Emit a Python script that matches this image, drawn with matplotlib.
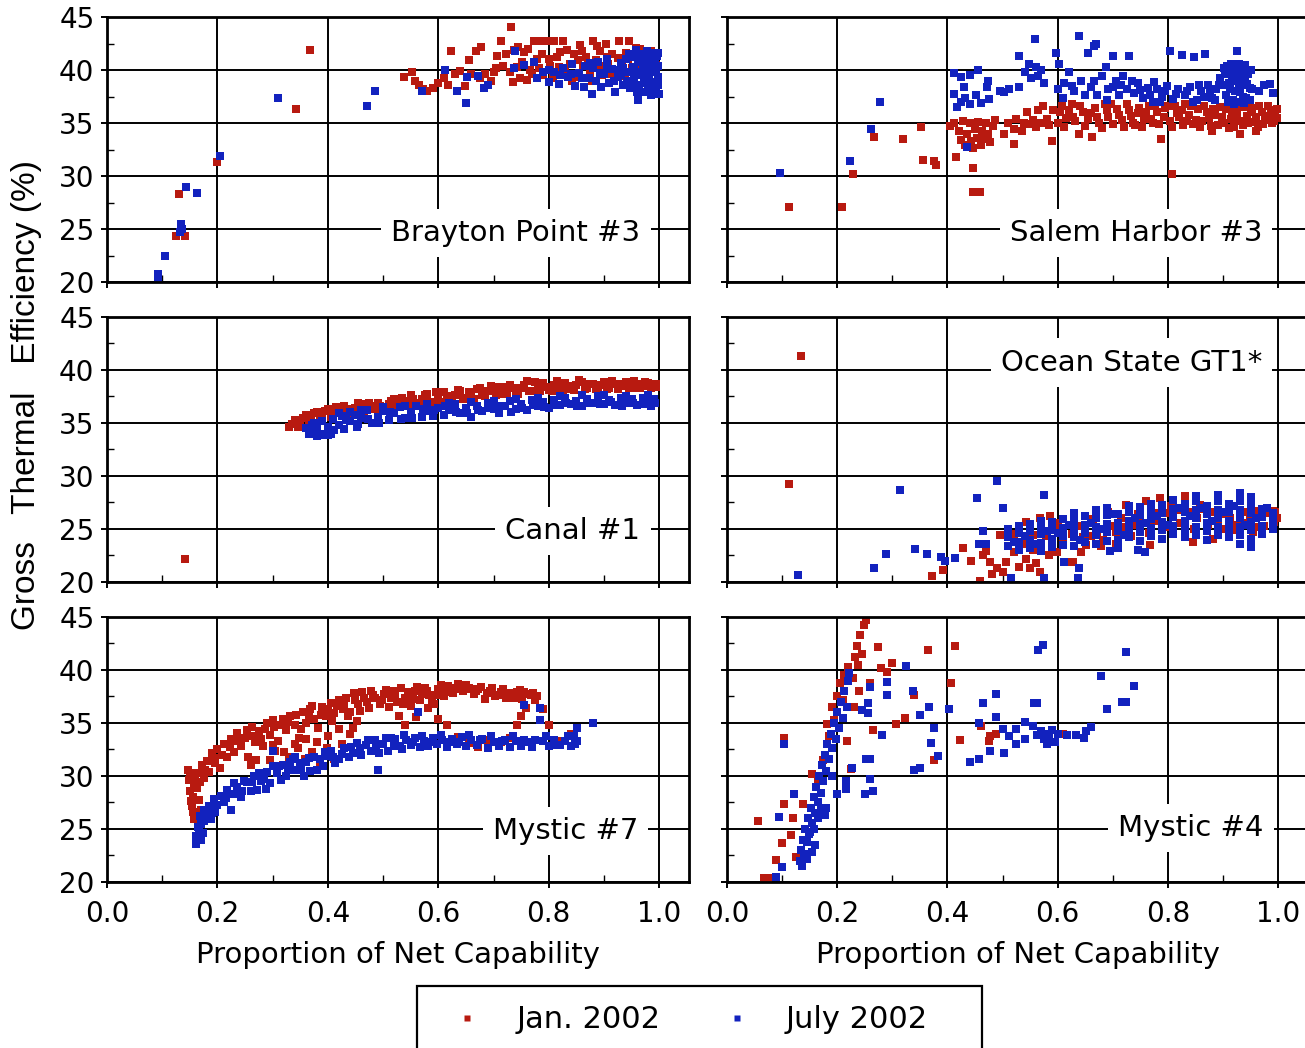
import numpy as np
import matplotlib.pyplot as plt
from matplotlib.lines import Line2D
from matplotlib.patches import Rectangle

RED = '#B81A10'
BLUE = '#1222BE'

# (proportion of net capability, gross thermal efficiency %)
brayton_jan = [(0.125,24.3),(0.141,24.3),(0.131,28.3),(0.200,31.3),(0.343,36.3),(0.368,41.9),
    (0.538,39.3),(0.552,39.8),(0.558,39.0),(0.565,38.6),(0.572,38.2),(0.580,38.0),(0.590,38.3),(0.600,38.8),
    (0.610,39.2),(0.618,38.6),(0.623,41.8),(0.630,39.6),(0.640,39.9),(0.648,38.5),(0.655,40.9),(0.660,39.6),
    (0.668,41.8),(0.678,42.2),(0.675,39.2),(0.685,39.6),(0.695,39.0),(0.700,39.8),(0.707,41.3),(0.713,42.7),
    (0.718,40.4),(0.731,44.1),(0.737,41.9),(0.730,39.8),(0.742,40.3),(0.748,39.2),(0.755,41.7),(0.760,39.1),
    (0.766,40.0),(0.773,42.7),(0.778,41.0),(0.785,42.7),(0.790,39.5),(0.797,42.7),(0.803,40.4),(0.810,42.7),
    (0.815,41.2),(0.820,41.7),(0.826,42.7),(0.830,39.8),(0.838,40.6),(0.845,41.5),(0.850,39.3),(0.857,42.4),
    (0.862,40.4),(0.868,41.2),(0.874,39.6),(0.880,42.7),(0.885,40.9),(0.892,41.8),(0.897,39.5),(0.903,42.5),
    (0.908,40.6),(0.915,41.5),(0.920,39.8),(0.928,42.7),(0.933,40.8),(0.940,41.6),(0.946,42.7),(0.950,40.2),
    (0.958,42.1),(0.962,41.0),(0.968,40.4),(0.975,41.5),(0.982,40.8),(0.988,41.2),(0.994,40.5),
    (0.705,40.2),(0.722,41.5),(0.735,38.9),(0.745,42.2),(0.752,40.8),(0.762,42.0),(0.770,39.6),(0.782,40.2),
    (0.788,41.5),(0.800,41.0),(0.807,39.2),(0.818,40.3),(0.833,41.9),(0.842,39.0),(0.853,40.9),(0.860,41.8),
    (0.871,40.6),(0.878,39.0),(0.888,42.3),(0.895,40.4),(0.905,41.2),(0.912,39.6),(0.925,41.1),(0.938,39.4),
    (0.944,41.0),(0.955,39.6),(0.965,42.0),(0.972,40.0),(0.985,41.8),(0.990,39.8)]
brayton_jul = [(0.093,20.8),(0.093,20.3),(0.105,22.5),(0.132,24.7),(0.134,25.5),(0.136,25.0),(0.143,29.0),
    (0.163,28.4),(0.205,31.9),(0.310,37.4),(0.470,36.6),(0.485,38.0),(0.570,38.0),(0.612,40.0),(0.634,38.0),
    (0.650,36.9),(0.652,39.3),(0.672,39.4),(0.683,38.3),(0.690,38.6),(0.737,40.2),(0.738,41.8),(0.755,40.5),
    (0.773,40.8),(0.779,39.2),(0.790,39.8),(0.800,38.9),(0.810,39.8),(0.818,38.7),(0.826,40.2),(0.835,39.3),
    (0.842,40.6),(0.848,38.5),(0.855,39.7),(0.863,38.4),(0.866,40.4),(0.872,39.2),(0.878,37.7),(0.880,40.2),
    (0.886,39.0),(0.890,40.8),(0.895,38.4),(0.900,39.6),(0.905,41.0),(0.910,38.8),(0.915,40.1),(0.920,37.9),
    (0.925,39.3),(0.930,40.7),(0.935,38.6),(0.940,39.8),(0.946,41.5),(0.948,38.3),(0.952,40.3),(0.955,39.2),
    (0.958,41.9),(0.960,37.9),(0.964,40.8),(0.964,38.3),(0.968,39.5),(0.970,41.3),(0.972,38.8),(0.975,40.2),
    (0.978,41.8),(0.980,38.0),(0.982,39.4),(0.985,40.7),(0.987,41.6),(0.988,38.6),(0.990,39.8),(0.992,40.9),
    (0.994,38.2),(0.996,41.3),(0.997,39.3),(0.998,40.4),
    (0.930,39.5),(0.935,40.2),(0.940,41.0),(0.945,39.0),(0.950,41.2),(0.955,40.0),(0.958,38.6),(0.962,39.8),
    (0.966,41.5),(0.970,40.0),(0.973,39.1),(0.976,41.0),(0.979,39.8),(0.983,38.7),(0.986,40.2),(0.989,41.2),
    (0.992,38.9),(0.995,39.8),(0.998,41.6),(0.998,38.6),(0.990,40.5),(0.981,40.6),(0.971,40.6),(0.961,41.0),
    (0.951,38.7),(0.942,38.8),(0.999,37.7),(0.985,37.6),(0.962,37.2),(0.975,37.9),(0.860,39.2),(0.875,40.7),
    (0.892,39.7),(0.905,40.4),(0.918,39.0),(0.928,40.0),(0.840,39.6),(0.820,39.5),(0.800,40.0)]

salem_jan = [(0.112,27.1),(0.208,27.1),(0.229,30.2),(0.266,33.7),(0.319,33.5),(0.352,34.6),(0.356,31.5),
    (0.376,31.4),(0.380,31.0),(0.404,34.7),(0.415,31.8),(0.446,30.8),(0.446,28.5),(0.459,28.5),
    (0.412,35.0),(0.420,34.2),(0.425,33.4),(0.428,35.2),(0.432,32.9),(0.436,34.0),(0.440,35.0),(0.443,33.3),
    (0.447,32.6),(0.450,34.4),(0.453,33.6),(0.456,35.1),(0.460,32.9),(0.463,34.2),(0.467,33.5),(0.470,35.0),
    (0.474,34.0),(0.478,33.2),(0.482,34.7),(0.486,35.3),(0.503,34.0),(0.520,33.0),(0.510,35.0),(0.525,35.4),
    (0.538,35.0),(0.545,36.0),(0.555,35.3),(0.565,36.2),(0.573,36.6),(0.580,35.4),(0.590,33.3),(0.592,36.2),
    (0.600,35.0),(0.608,36.6),(0.615,35.5),(0.625,36.8),(0.632,35.2),(0.638,34.0),(0.645,36.0),(0.655,35.4),
    (0.663,33.7),(0.668,36.4),(0.675,35.0),(0.685,36.8),(0.692,35.6),(0.700,34.9),(0.708,36.3),(0.716,35.3),
    (0.725,36.8),(0.733,35.7),(0.740,34.8),(0.748,36.4),(0.756,35.4),(0.765,36.6),(0.772,35.0),(0.780,36.0),
    (0.787,33.5),(0.795,36.4),(0.803,35.2),(0.808,30.2),(0.812,36.6),(0.820,35.6),(0.828,34.8),(0.830,36.8),
    (0.838,35.8),(0.846,34.9),(0.855,36.3),(0.862,35.2),(0.870,36.0),(0.878,34.7),(0.886,35.8),(0.894,36.5),
    (0.902,35.0),(0.910,34.5),(0.916,36.0),(0.922,35.3),(0.930,36.6),(0.936,34.8),(0.943,35.7),(0.950,36.4),
    (0.957,35.1),(0.963,34.6),(0.970,36.0),(0.976,35.3),(0.982,36.6),(0.988,35.0),(0.994,35.8),(0.998,36.3),
    (0.604,36.0),(0.612,34.6),(0.620,36.2),(0.628,35.6),(0.640,36.6),(0.650,34.7),(0.660,35.9),(0.672,35.6),
    (0.680,34.5),(0.690,36.2),(0.697,36.8),(0.712,35.8),(0.720,34.6),(0.730,36.2),(0.737,35.0),(0.745,35.9),
    (0.752,34.6),(0.760,36.0),(0.769,35.4),(0.776,36.6),(0.784,34.9),(0.792,35.6),(0.800,36.6),(0.808,34.6),
    (0.816,35.9),(0.825,36.2),(0.834,35.2),(0.842,36.6),(0.850,35.3),(0.858,34.6),(0.866,36.6),(0.874,35.5),
    (0.882,36.3),(0.890,34.8),(0.898,35.6),(0.906,36.3),(0.914,35.4),(0.920,34.6),(0.926,35.9),(0.933,35.2),
    (0.940,36.5),(0.946,35.0),(0.953,36.0),(0.960,35.6),(0.966,36.6),(0.973,34.9),(0.980,35.7),(0.986,36.2),
    (0.992,35.2),(0.998,35.5),(0.520,34.4),(0.535,34.2),(0.548,34.9),(0.560,34.6),(0.570,35.0),(0.585,34.8),
    (0.880,34.2),(0.930,34.0),(0.960,34.2)]
salem_jul = [(0.096,30.3),(0.224,31.4),(0.261,34.4),(0.277,37.0),(0.436,32.7),
    (0.412,39.7),(0.425,39.3),(0.440,39.5),(0.455,40.0),(0.473,39.0),(0.412,37.7),(0.418,36.5),(0.424,37.0),
    (0.432,37.4),(0.440,36.8),(0.452,37.6),(0.460,36.9),(0.476,37.3),(0.472,38.4),(0.430,38.4),
    (0.495,38.0),(0.503,37.9),(0.512,38.2),(0.530,38.4),(0.530,41.3),(0.540,39.8),(0.548,40.6),(0.552,39.2),
    (0.558,42.9),(0.560,40.3),(0.564,39.4),(0.570,40.0),(0.575,38.8),(0.597,41.6),(0.603,40.6),(0.600,38.2),
    (0.612,38.8),(0.620,39.8),(0.630,38.0),(0.639,43.2),(0.642,39.0),(0.655,41.6),(0.665,42.3),(0.670,42.5),
    (0.660,38.4),(0.672,37.6),(0.680,39.4),(0.688,40.3),(0.692,38.2),(0.700,41.3),(0.705,39.0),(0.712,37.6),
    (0.718,39.4),(0.725,38.2),(0.730,41.3),(0.738,37.8),(0.745,38.8),(0.755,37.4),(0.763,38.3),(0.772,37.0),
    (0.780,38.2),(0.790,37.5),(0.798,38.5),(0.804,41.8),(0.810,37.3),(0.818,38.2),(0.825,41.4),(0.830,37.6),
    (0.840,38.4),(0.847,41.2),(0.852,37.2),(0.860,38.0),(0.867,41.5),(0.872,38.6),(0.880,37.4),(0.888,38.2),
    (0.895,39.2),(0.902,40.2),(0.905,37.6),(0.910,38.8),(0.915,40.6),(0.918,37.2),(0.922,39.5),(0.925,41.8),
    (0.928,38.2),(0.932,40.3),(0.936,37.5),(0.940,39.0),(0.944,40.0),(0.948,38.3),(0.935,38.9),(0.912,39.8),
    (0.966,38.0),(0.985,38.7),(0.990,37.8),
    (0.900,38.6),(0.903,39.6),(0.907,40.4),(0.908,37.0),(0.913,38.2),(0.916,39.3),(0.919,40.0),(0.921,38.0),
    (0.924,37.0),(0.926,39.0),(0.929,40.6),(0.931,37.9),(0.934,39.5),(0.937,38.6),(0.939,40.5),(0.941,37.4),
    (0.943,38.7),(0.946,39.6),(0.949,37.2),(0.951,40.0),(0.953,38.2),(0.938,36.9),(0.920,36.8),
    (0.610,37.4),(0.625,38.5),(0.650,37.6),(0.665,39.0),(0.690,37.2),(0.700,38.4),(0.715,38.6),(0.735,39.0),
    (0.750,38.1),(0.768,37.6),(0.775,38.9),(0.785,37.0),(0.795,38.0),(0.815,37.7),(0.835,38.0),(0.845,37.0),
    (0.856,38.6),(0.865,37.5),(0.876,38.0),(0.885,37.2),(0.893,38.6),(0.975,38.6)]

canal_jan = [(0.141,22.2),
    (0.33,34.6),(0.34,35.3),(0.35,35.0),(0.36,35.8),(0.37,35.4),(0.38,36.0),(0.39,35.6),(0.40,36.3),(0.41,35.8),
    (0.42,36.2),(0.43,36.6),(0.44,36.0),(0.45,36.4),(0.46,36.8),(0.47,36.2),(0.48,36.6),(0.49,36.9),(0.50,36.4),
    (0.51,36.8),(0.52,37.3),(0.53,36.7),(0.54,37.1),(0.55,37.6),(0.56,36.9),(0.57,37.3),(0.58,37.7),(0.59,37.0),
    (0.60,37.4),(0.61,37.9),(0.62,37.2),(0.63,37.6),(0.64,38.0),(0.65,37.4),(0.66,37.8),(0.67,38.2),(0.68,37.6),
    (0.69,38.0),(0.70,38.4),(0.71,37.7),(0.72,38.1),(0.73,38.6),(0.74,37.9),(0.75,38.3),(0.76,39.0),(0.77,38.0),
    (0.78,38.5),(0.79,38.8),(0.80,38.1),(0.81,38.6),(0.82,38.3),(0.83,38.8),(0.84,38.2),(0.85,38.6),(0.86,38.9),
    (0.87,38.3),(0.88,38.7),(0.89,38.4),(0.90,38.9),(0.91,38.3),(0.92,38.7),(0.93,38.5),(0.94,38.9),(0.95,38.3),
    (0.96,38.7),(0.97,38.5),(0.98,38.8),(0.99,38.4),(0.995,38.7),
    (0.335,34.9),(0.355,35.5),(0.375,35.9),(0.395,36.1),(0.415,36.5),(0.435,36.3),(0.455,36.9),(0.475,36.9),
    (0.495,36.6),(0.515,37.1),(0.535,37.4),(0.555,37.3),(0.575,37.6),(0.595,37.9),(0.615,37.5),(0.635,38.1),
    (0.655,37.9),(0.675,38.3),(0.695,38.5),(0.715,38.4),(0.735,38.3),(0.755,38.6),(0.775,38.9),(0.795,38.4),
    (0.815,39.0),(0.835,38.5),(0.855,39.1),(0.875,38.7),(0.895,38.6),(0.915,39.0),(0.935,38.7),(0.955,39.0),
    (0.975,38.9),(0.995,38.4),
    (0.345,34.6),(0.365,35.1),(0.385,35.3),(0.405,35.6),(0.425,35.9),(0.445,35.8),(0.465,36.1),(0.485,36.3),
    (0.505,36.1),(0.525,36.5),(0.545,36.7),(0.565,36.6),(0.585,36.9),(0.605,37.0),(0.625,37.0),(0.645,37.3),
    (0.665,37.3),(0.685,37.5),(0.705,37.6),(0.725,37.7),(0.745,37.7),(0.765,38.0),(0.785,38.0),(0.805,38.0),
    (0.825,38.0),(0.845,38.1),(0.865,38.2),(0.885,38.2),(0.905,38.2),(0.925,38.2),(0.945,38.3),(0.965,38.3),
    (0.985,38.3)]
canal_jul = [(0.37,34.2),(0.375,35.0),(0.38,34.5),(0.385,33.9),(0.39,35.2),(0.40,34.6),(0.405,34.0),(0.41,35.4),
    (0.42,34.8),(0.425,35.7),(0.43,34.4),(0.44,35.2),(0.45,35.8),(0.455,34.9),(0.46,35.5),(0.47,36.2),(0.48,35.0),
    (0.49,35.6),(0.50,36.1),(0.51,35.3),(0.52,35.9),(0.53,36.5),(0.54,35.5),(0.55,36.0),(0.56,36.6),(0.57,35.6),
    (0.58,36.1),(0.59,35.7),(0.60,36.4),(0.61,35.8),(0.62,36.2),(0.63,36.8),(0.64,35.9),(0.65,36.4),(0.66,35.6),
    (0.67,36.6),(0.68,36.1),(0.69,36.9),(0.70,36.3),(0.71,35.9),(0.72,36.6),(0.73,37.1),(0.74,36.3),(0.75,36.8),
    (0.76,36.2),(0.77,37.2),(0.78,36.6),(0.79,37.0),(0.80,36.4),(0.81,37.2),(0.82,36.7),(0.83,37.4),(0.84,36.8),
    (0.85,37.1),(0.86,36.6),(0.87,37.3),(0.88,36.9),(0.89,37.5),(0.90,36.8),(0.91,37.2),(0.92,36.7),(0.93,37.4),
    (0.94,36.9),(0.95,37.3),(0.96,36.7),(0.97,37.4),(0.98,37.0),(0.99,37.3),(0.985,36.6),
    (0.372,34.8),(0.392,34.0),(0.412,34.3),(0.432,35.3),(0.452,34.6),(0.472,35.4),(0.492,35.0),(0.512,36.0),
    (0.532,35.4),(0.552,35.5),(0.572,36.3),(0.592,36.2),(0.612,36.6),(0.632,36.0),(0.652,35.9),(0.672,36.2),
    (0.692,36.4),(0.712,36.6),(0.732,36.0),(0.752,36.4),(0.772,36.7),(0.792,36.5),(0.812,36.7),(0.832,36.9),
    (0.852,36.6),(0.872,36.9),(0.892,36.8),(0.912,37.0),(0.932,36.6),(0.952,36.9),(0.972,36.8),(0.992,36.9),
    (0.38,33.8),(0.40,33.9),(0.36,34.5),(0.365,34.0),
    (0.42,35.9),(0.44,36.0),(0.46,36.2),(0.50,36.5),(0.54,36.6),(0.58,36.8),(0.62,36.9),(0.66,37.0),(0.70,37.1),
    (0.74,37.3),(0.78,37.4),(0.82,37.5),(0.86,37.6),(0.90,37.6),(0.94,37.5),(0.98,37.6)]

ocean_jan = [(0.134,41.3),(0.112,29.2),(0.371,20.6),(0.392,21.1),(0.428,23.2),(0.443,22.0),(0.459,20.1),
    (0.465,22.5),(0.477,21.9),(0.489,21.3),(0.495,24.4),(0.507,21.9),(0.520,22.8),(0.530,21.4),(0.543,25.7),
    (0.543,22.2),(0.556,23.0),(0.567,20.9),(0.567,26.0),(0.578,24.3),(0.586,26.2),(0.598,22.8),(0.605,24.8),
    (0.615,21.9),(0.628,21.9),(0.635,25.3),(0.645,24.2),(0.652,23.5),(0.664,25.9),(0.672,24.6),(0.682,24.0),
    (0.692,26.6),(0.700,25.3),(0.706,24.7),(0.715,26.0),(0.724,27.3),(0.736,25.4),(0.745,26.4),(0.760,27.6),
    (0.767,23.5),(0.775,25.8),(0.785,27.9),(0.795,26.5),(0.809,25.1),(0.818,26.8),(0.830,28.1),(0.845,23.8),
    (0.852,26.0),(0.865,26.9),(0.882,24.1),(0.890,25.7),(0.905,26.4),(0.918,24.9),(0.930,26.8),(0.942,25.6),
    (0.954,24.7),(0.962,26.2),(0.966,26.7),(0.975,25.3),(0.985,26.5),(0.990,26.7),(0.993,25.7),(0.998,26.0),
    (0.610,23.6),(0.625,24.5),(0.642,22.8),(0.660,24.3),(0.678,23.4),(0.690,25.0),(0.705,23.6),(0.720,25.2),
    (0.733,24.3),(0.750,25.6),(0.765,24.6),(0.780,26.5),(0.795,25.2),(0.805,27.2),(0.822,25.6),(0.838,26.6),
    (0.848,25.0),(0.858,27.3),(0.872,25.4),(0.885,26.6),(0.898,25.0),(0.912,26.0),(0.925,25.4),(0.938,26.6),
    (0.948,25.9),(0.958,25.2),(0.970,26.4),(0.980,26.9),(0.995,26.6),(0.520,24.5),(0.535,23.6),(0.555,24.4),
    (0.585,22.5),(0.600,25.6),(0.470,22.9),(0.480,20.8),(0.500,20.9),(0.550,21.3),(0.560,21.8)]
ocean_jul = [(0.128,20.7),(0.267,21.3),(0.288,22.6),(0.314,28.7),(0.341,23.1),(0.363,22.6),(0.388,22.4),
    (0.395,22.0),(0.413,22.3),(0.453,27.9),(0.464,24.8),(0.458,23.6),(0.470,23.6),(0.489,29.5),(0.500,27.0),
    (0.575,28.2),(0.515,20.4),(0.575,20.4),(0.637,20.4),(0.612,21.9),(0.638,21.3),(0.694,22.9),(0.745,23.0),
    (0.758,22.8),
    (0.51,23.4),(0.51,24.2),(0.51,25.0),(0.53,23.0),(0.53,23.8),(0.53,24.6),(0.53,25.3),
    (0.55,23.2),(0.55,24.0),(0.55,24.8),(0.55,25.5),(0.57,22.9),(0.57,23.7),(0.57,24.5),(0.57,25.3),(0.57,25.8),
    (0.59,23.3),(0.59,24.1),(0.59,24.9),(0.59,25.7),(0.61,23.5),(0.61,24.3),(0.61,25.1),(0.61,25.9),
    (0.63,23.4),(0.63,24.2),(0.63,25.0),(0.63,25.8),(0.63,26.5),(0.65,23.8),(0.65,24.6),(0.65,25.4),(0.65,26.2),
    (0.67,23.6),(0.67,24.4),(0.67,25.2),(0.67,26.0),(0.67,26.8),(0.69,23.9),(0.69,24.7),(0.69,25.5),(0.69,26.3),
    (0.69,27.0),(0.71,23.2),(0.71,24.0),(0.71,24.8),(0.71,25.6),(0.71,26.4),(0.73,24.2),(0.73,25.0),(0.73,25.8),
    (0.73,26.6),(0.73,27.2),(0.75,23.9),(0.75,24.7),(0.75,25.5),(0.75,26.3),(0.75,27.1),(0.77,24.3),(0.77,25.1),
    (0.77,25.9),(0.77,26.7),(0.77,27.4),(0.79,24.1),(0.79,24.9),(0.79,25.7),(0.79,26.5),(0.79,27.3),(0.81,24.5),
    (0.81,25.3),(0.81,26.1),(0.81,26.9),(0.81,27.7),(0.83,24.2),(0.83,25.0),(0.83,25.8),(0.83,26.6),(0.83,27.4),
    (0.85,24.4),(0.85,25.2),(0.85,26.0),(0.85,26.8),(0.85,27.6),(0.85,28.1),(0.87,24.0),(0.87,24.8),(0.87,25.6),
    (0.87,26.4),(0.87,27.2),(0.89,24.4),(0.89,25.2),(0.89,26.0),(0.89,26.8),(0.89,27.6),(0.89,28.2),(0.91,24.2),
    (0.91,25.0),(0.91,25.8),(0.91,26.6),(0.91,27.4),(0.93,23.6),(0.93,24.4),(0.93,25.2),(0.93,26.0),(0.93,26.8),
    (0.93,27.6),(0.93,28.4),(0.95,23.3),(0.95,24.1),(0.95,24.9),(0.95,25.7),(0.95,26.5),(0.95,27.3),(0.95,28.0),
    (0.97,24.5),(0.97,25.3),(0.97,26.1),(0.97,26.9),(0.99,25.0),(0.99,25.8),(0.99,26.5),
    (0.52,23.8),(0.54,24.3),(0.56,23.6),(0.58,24.8),(0.60,24.6),(0.62,25.4),(0.64,24.0),(0.66,25.6),(0.68,25.0),
    (0.70,26.4),(0.72,24.4),(0.74,26.0),(0.76,25.6),(0.78,26.2),(0.80,25.4),(0.82,27.0),(0.84,26.2),(0.86,27.0),
    (0.88,25.8),(0.90,26.6),(0.92,27.2),(0.94,25.4),(0.96,26.0),(0.98,27.0)]

mystic7_jan = [(0.146,30.6),(0.148,29.6),(0.150,28.6),(0.152,27.6),(0.155,26.6),(0.158,25.9),(0.160,30.0),
    (0.163,28.9),(0.166,27.7),(0.170,26.8),(0.172,31.0),(0.176,29.8),(0.182,31.4),(0.185,30.4),
    (0.190,32.2),(0.195,31.2),(0.200,32.5),(0.205,30.8),(0.212,33.0),(0.218,31.8),(0.225,33.5),(0.230,32.3),
    (0.236,34.1),(0.242,32.8),(0.250,33.6),(0.256,31.8),(0.262,34.6),(0.268,33.2),(0.275,34.2),(0.282,32.8),
    (0.290,35.0),(0.296,33.9),(0.303,34.6),(0.310,33.3),(0.318,35.4),(0.325,34.3),(0.332,35.7),(0.340,34.8),
    (0.347,33.6),(0.355,36.0),(0.361,35.0),(0.368,36.3),(0.375,35.4),(0.382,34.5),(0.390,36.5),(0.397,35.7),
    (0.405,36.9),(0.412,35.9),(0.420,37.2),(0.427,36.3),(0.433,37.4),(0.440,36.0),(0.447,37.8),(0.455,36.8),
    (0.462,37.9),(0.470,37.0),(0.478,38.0),(0.486,37.4),(0.494,36.8),(0.502,37.7),(0.510,36.5),(0.518,38.0),
    (0.526,37.0),(0.532,38.3),(0.540,37.4),(0.550,36.6),(0.558,38.0),(0.566,37.2),(0.575,38.3),(0.584,37.6),
    (0.592,36.8),(0.600,38.2),(0.610,37.5),(0.618,38.5),(0.627,37.8),(0.636,38.7),(0.645,38.0),(0.655,38.3),
    (0.664,37.7),(0.672,38.2),(0.684,37.3),(0.693,38.0),(0.703,37.5),(0.713,37.9),(0.722,37.4),(0.732,37.8),
    (0.743,37.9),(0.752,37.3),(0.760,37.7),(0.767,37.6),(0.775,37.2),
    (0.284,30.0),(0.295,31.5),(0.305,32.4),(0.318,31.0),(0.330,31.8),(0.345,32.6),(0.358,31.6),(0.372,32.3),
    (0.385,31.3),(0.398,32.6),(0.412,31.6),(0.425,33.0),(0.440,34.0),(0.445,34.5),(0.452,35.2),(0.528,35.7),
    (0.540,34.8),(0.560,35.6),(0.582,36.4),(0.600,35.4),(0.615,34.8),(0.636,33.7),(0.655,33.1),(0.672,32.7),
    (0.690,33.4),(0.713,33.2),(0.730,33.6),(0.743,34.8),(0.749,35.7),(0.758,36.4),(0.770,33.0),(0.790,36.3),
    (0.800,34.8),(0.815,33.3),(0.841,34.0),
    (0.193,31.7),(0.208,32.0),(0.222,32.7),(0.238,33.3),(0.253,34.3),(0.265,33.8),(0.278,33.5),(0.286,34.4),
    (0.300,35.3),(0.314,34.8),(0.328,35.1),(0.343,35.8),(0.352,34.4),(0.365,35.6),(0.372,36.6),(0.388,35.8),
    (0.400,36.3),(0.408,35.2),(0.416,36.6),(0.430,36.8),(0.437,35.7),(0.450,37.2),(0.458,36.1),(0.466,37.4),
    (0.474,36.4),(0.482,37.6),(0.498,37.2),(0.506,38.1),(0.514,37.4),(0.522,37.6),(0.536,36.8),(0.546,37.9),
    (0.554,37.3),(0.562,38.4),(0.570,37.7),(0.580,38.0),(0.588,37.1),(0.596,37.6),(0.605,38.6),(0.614,37.9),
    (0.622,38.2),(0.632,38.3),(0.640,38.2),(0.650,38.6),(0.660,38.2),(0.668,38.0),(0.678,38.4),(0.688,37.8),
    (0.698,38.3),(0.708,37.6),(0.718,38.2),(0.727,37.8),(0.737,37.4),(0.748,38.1),(0.756,37.9),(0.772,37.8),
    (0.778,37.5),(0.158,29.2),(0.165,30.3),(0.150,30.3),(0.155,28.0),(0.168,29.4),(0.178,30.6),(0.154,27.2),
    (0.160,26.6),(0.340,33.0),(0.360,33.5),(0.380,33.2),(0.400,33.8),(0.420,34.4),(0.300,32.9),(0.320,32.3),
    (0.270,31.5),(0.260,31.0)]
mystic7_jul = [(0.161,24.3),(0.162,23.6),(0.164,25.2),(0.166,24.8),(0.168,26.2),(0.170,25.5),(0.173,24.6),
    (0.176,26.8),(0.180,26.0),(0.185,27.2),(0.190,26.5),(0.194,27.8),(0.200,27.3),(0.206,28.1),(0.212,27.5),
    (0.218,28.7),(0.224,26.8),(0.230,28.3),(0.236,29.0),(0.242,28.0),(0.248,29.5),(0.254,29.4),(0.260,28.6),
    (0.266,30.0),(0.272,28.7),(0.278,29.5),(0.284,29.7),(0.290,30.4),(0.296,29.3),(0.301,32.4),(0.308,30.3),
    (0.315,29.6),(0.320,31.0),(0.325,30.0),(0.332,31.3),(0.337,31.6),(0.343,30.6),(0.350,31.2),(0.356,30.0),
    (0.361,31.3),(0.368,30.5),(0.375,31.8),(0.385,31.6),(0.392,30.9),(0.397,31.9),(0.405,32.4),(0.413,31.2),
    (0.421,31.6),(0.430,32.6),(0.438,31.8),(0.445,32.2),(0.452,33.1),(0.460,32.0),(0.469,32.9),(0.478,32.4),
    (0.485,33.4),(0.490,30.6),(0.492,32.2),(0.500,33.0),(0.508,32.4),(0.515,33.6),(0.522,33.5),(0.530,32.8),
    (0.534,32.5),(0.542,33.4),(0.550,32.9),(0.558,33.6),(0.564,36.0),(0.566,32.7),(0.574,33.3),(0.582,32.8),
    (0.590,33.6),(0.598,33.0),(0.606,33.4),(0.615,32.7),(0.624,33.5),(0.633,33.0),(0.642,33.7),(0.650,32.8),
    (0.660,33.4),(0.670,32.9),(0.680,33.5),(0.690,32.6),(0.700,33.2),(0.710,32.8),(0.720,33.4),(0.730,32.7),
    (0.740,33.3),(0.750,32.8),(0.755,36.7),(0.760,33.2),(0.770,32.7),(0.785,36.4),(0.785,35.3),(0.790,33.3),
    (0.800,32.8),(0.810,33.4),(0.820,32.9),(0.830,33.3),(0.840,32.8),(0.851,33.3),(0.851,34.5),(0.845,33.8),
    (0.881,35.0),
    (0.215,27.9),(0.230,29.3),(0.245,28.6),(0.262,29.4),(0.275,30.3),(0.288,28.8),(0.300,30.9),(0.312,30.9),
    (0.328,30.6),(0.340,31.8),(0.352,30.7),(0.365,31.7),(0.380,30.6),(0.395,32.3),(0.410,31.8),(0.425,32.1),
    (0.442,32.7),(0.458,32.6),(0.472,33.4),(0.488,32.7),(0.505,33.6),(0.520,32.8),(0.538,33.9),(0.555,33.2),
    (0.570,33.8),(0.588,33.2),(0.605,33.9),(0.620,33.2),(0.638,33.2),(0.655,33.9),(0.675,33.4),(0.695,33.8),
    (0.715,33.3),(0.735,33.8),(0.755,33.4),(0.775,33.4),(0.795,33.8),(0.815,32.9),(0.835,33.8),(0.848,33.0),
    (0.170,24.0),(0.175,25.8),(0.182,26.6),(0.188,25.9),(0.196,26.6)]

mystic4_jan = [(0.068,20.4),(0.075,20.4),(0.089,22.1),(0.099,23.7),(0.116,24.4),(0.125,22.4),(0.057,25.8),
    (0.104,27.4),(0.119,26.0),(0.137,27.4),(0.104,33.6),(0.155,30.2),(0.165,29.5),(0.175,31.5),(0.181,34.9),
    (0.185,33.8),(0.190,36.5),(0.195,35.3),(0.200,37.5),(0.205,38.8),(0.210,37.2),(0.213,39.5),(0.218,33.3),
    (0.220,40.3),(0.225,30.7),(0.228,39.2),(0.232,41.2),(0.235,42.3),(0.238,40.5),(0.242,43.3),(0.245,41.5),
    (0.248,44.2),(0.252,44.7),(0.230,36.5),(0.240,38.0),(0.260,38.8),(0.264,34.3),(0.274,42.2),(0.280,40.2),
    (0.300,40.7),(0.290,39.8),(0.307,34.9),(0.323,35.5),(0.339,37.6),(0.365,41.9),(0.375,31.5),(0.407,38.8),
    (0.414,42.3),(0.423,33.4),(0.460,34.7),(0.475,33.3),(0.478,33.8),(0.488,34.0),(0.604,34.0),(0.610,34.0)]
mystic4_jul = [(0.089,20.5),(0.099,21.4),(0.094,26.1),(0.104,33.0),(0.121,28.3),(0.200,28.3),(0.215,28.8),
    (0.215,29.5),(0.250,28.3),(0.265,28.6),(0.260,29.7),(0.180,27.0),(0.178,26.3),(0.227,30.8),(0.252,31.6),
    (0.260,31.6),(0.245,36.2),(0.255,35.9),(0.255,36.9),(0.260,38.4),(0.290,38.9),(0.290,37.6),(0.324,40.4),
    (0.338,38.0),(0.350,35.8),(0.367,36.5),(0.370,33.1),(0.375,34.5),(0.382,31.9),(0.281,33.9),(0.403,36.3),
    (0.340,30.6),(0.350,30.8),(0.440,31.3),(0.457,31.6),(0.464,36.9),(0.457,35.0),(0.488,37.7),(0.488,35.6),
    (0.478,32.4),(0.503,32.2),(0.557,36.9),(0.563,36.9),(0.565,41.9),(0.573,42.4),(0.679,39.4),(0.690,36.3),
    (0.717,37.0),(0.724,37.0),(0.724,41.7),(0.739,38.5),
    (0.500,34.4),(0.512,33.8),(0.525,34.4),(0.525,33.0),(0.540,33.5),(0.540,35.1),(0.556,34.7),(0.563,33.9),
    (0.570,34.2),(0.575,33.5),(0.580,34.0),(0.585,33.7),(0.590,34.3),(0.595,33.2),(0.580,33.0),(0.600,34.0),
    (0.617,33.9),(0.634,33.9),(0.648,33.6),(0.652,34.2),(0.660,34.6),
    (0.133,22.0),(0.135,23.0),(0.138,24.0),(0.140,22.6),(0.142,25.0),(0.145,23.8),(0.147,26.0),(0.150,24.7),
    (0.152,27.0),(0.155,25.6),(0.157,28.0),(0.160,26.5),(0.162,29.0),(0.165,27.5),(0.167,30.0),(0.170,28.4),
    (0.172,31.0),(0.175,29.5),(0.178,32.0),(0.180,30.5),(0.182,33.0),(0.185,31.6),(0.188,34.0),(0.190,32.6),
    (0.195,35.0),(0.198,33.5),(0.200,36.0),(0.203,34.5),(0.207,37.0),(0.210,35.5),(0.213,38.0),(0.217,36.5),
    (0.220,39.0),(0.222,39.7),(0.148,24.5),(0.158,25.0),(0.165,26.0),(0.170,26.8),(0.160,23.5),(0.155,22.8),
    (0.145,22.2),(0.190,30.0),(0.136,21.5)]

# panel name, label right edge (x), label centre (y)
panels = [
    (brayton_jan, brayton_jul, 'Brayton Point #3', 0.966, 24.6),
    (salem_jan, salem_jul, 'Salem Harbor #3', 0.971, 24.6),
    (canal_jan, canal_jul, 'Canal #1', 0.966, 24.8),
    (ocean_jan, ocean_jul, 'Ocean State GT1*', 0.971, 40.7),
    (mystic7_jan, mystic7_jul, 'Mystic #7', 0.962, 24.8),
    (mystic4_jan, mystic4_jul, 'Mystic #4', 0.973, 25.1),
]

W, H = 1305, 1048
fig = plt.figure(figsize=(W / 100, H / 100), dpi=100)

lefts = [107, 727]
widths = [582, 581]
tops = [17, 317, 617]
ph = 265

for i, (jan, jul, name, tx, ty) in enumerate(panels):
    row, col = divmod(i, 2)
    ax = fig.add_axes([lefts[col] / W, 1 - (tops[row] + ph) / H, widths[col] / W, ph / H])
    jan = np.array(jan)
    jul = np.array(jul)
    ax.scatter(jan[:, 0], jan[:, 1], s=40, marker='s', c=RED, linewidths=0, zorder=2)
    ax.scatter(jul[:, 0], jul[:, 1], s=28, marker='s', c=BLUE, linewidths=0, zorder=2.1)

    ax.set_xlim(0, 1.054)
    ax.set_ylim(20, 45)
    ax.set_xticks(np.arange(0, 1.01, 0.2))
    ax.set_yticks(range(20, 46, 5))
    ax.set_xticks(np.arange(0.1, 1.0, 0.2), minor=True)
    ax.set_yticks(np.arange(22.5, 45, 5), minor=True)
    ax.xaxis.set_major_formatter('{x:.1f}')
    ax.grid(True, which='major', color='black', lw=1.4)
    ax.set_axisbelow(True)
    ax.tick_params(which='major', direction='out', length=4, width=1.4, labelsize=20, pad=5)
    ax.tick_params(axis='x', which='major', pad=9)
    ax.tick_params(which='minor', direction='in', length=5, width=1)
    for sp in ax.spines.values():
        sp.set_linewidth(2)
    if col == 1:
        ax.tick_params(labelleft=False)
    if row < 2:
        ax.tick_params(labelbottom=False)
    else:
        ax.set_xlabel('Proportion of Net Capability', fontsize=21, labelpad=9)

    ax.text(tx, ty, name, ha='right', va='center', fontsize=21, zorder=5,
            bbox=dict(fc='white', ec='none', boxstyle='square,pad=0.35'))

fig.text(27 / W, 1 - 395 / H, 'Gross   Thermal   Efficiency (%)', rotation=90,
         ha='center', va='center', fontsize=24, family='Liberation Sans')

# legend
handles = [Line2D([], [], ls='none', marker='s', ms=5, color=RED, mec='none'),
           Line2D([], [], ls='none', marker='s', ms=3.8, color=BLUE, mec='none')]
fig.legend(handles, ['Jan. 2002', 'July 2002'], loc='center', bbox_to_anchor=(690 / W, 1 - 1020 / H),
           ncol=2, frameon=False, fontsize=22, handlelength=1.0, handletextpad=1.1, columnspacing=2.0)
fig.add_artist(Rectangle((417 / W, 1 - 1064 / H), 565 / W, 78 / H, transform=fig.transFigure,
                         fill=False, ec='black', lw=1.6))

fig.savefig('out.png', dpi=100)
